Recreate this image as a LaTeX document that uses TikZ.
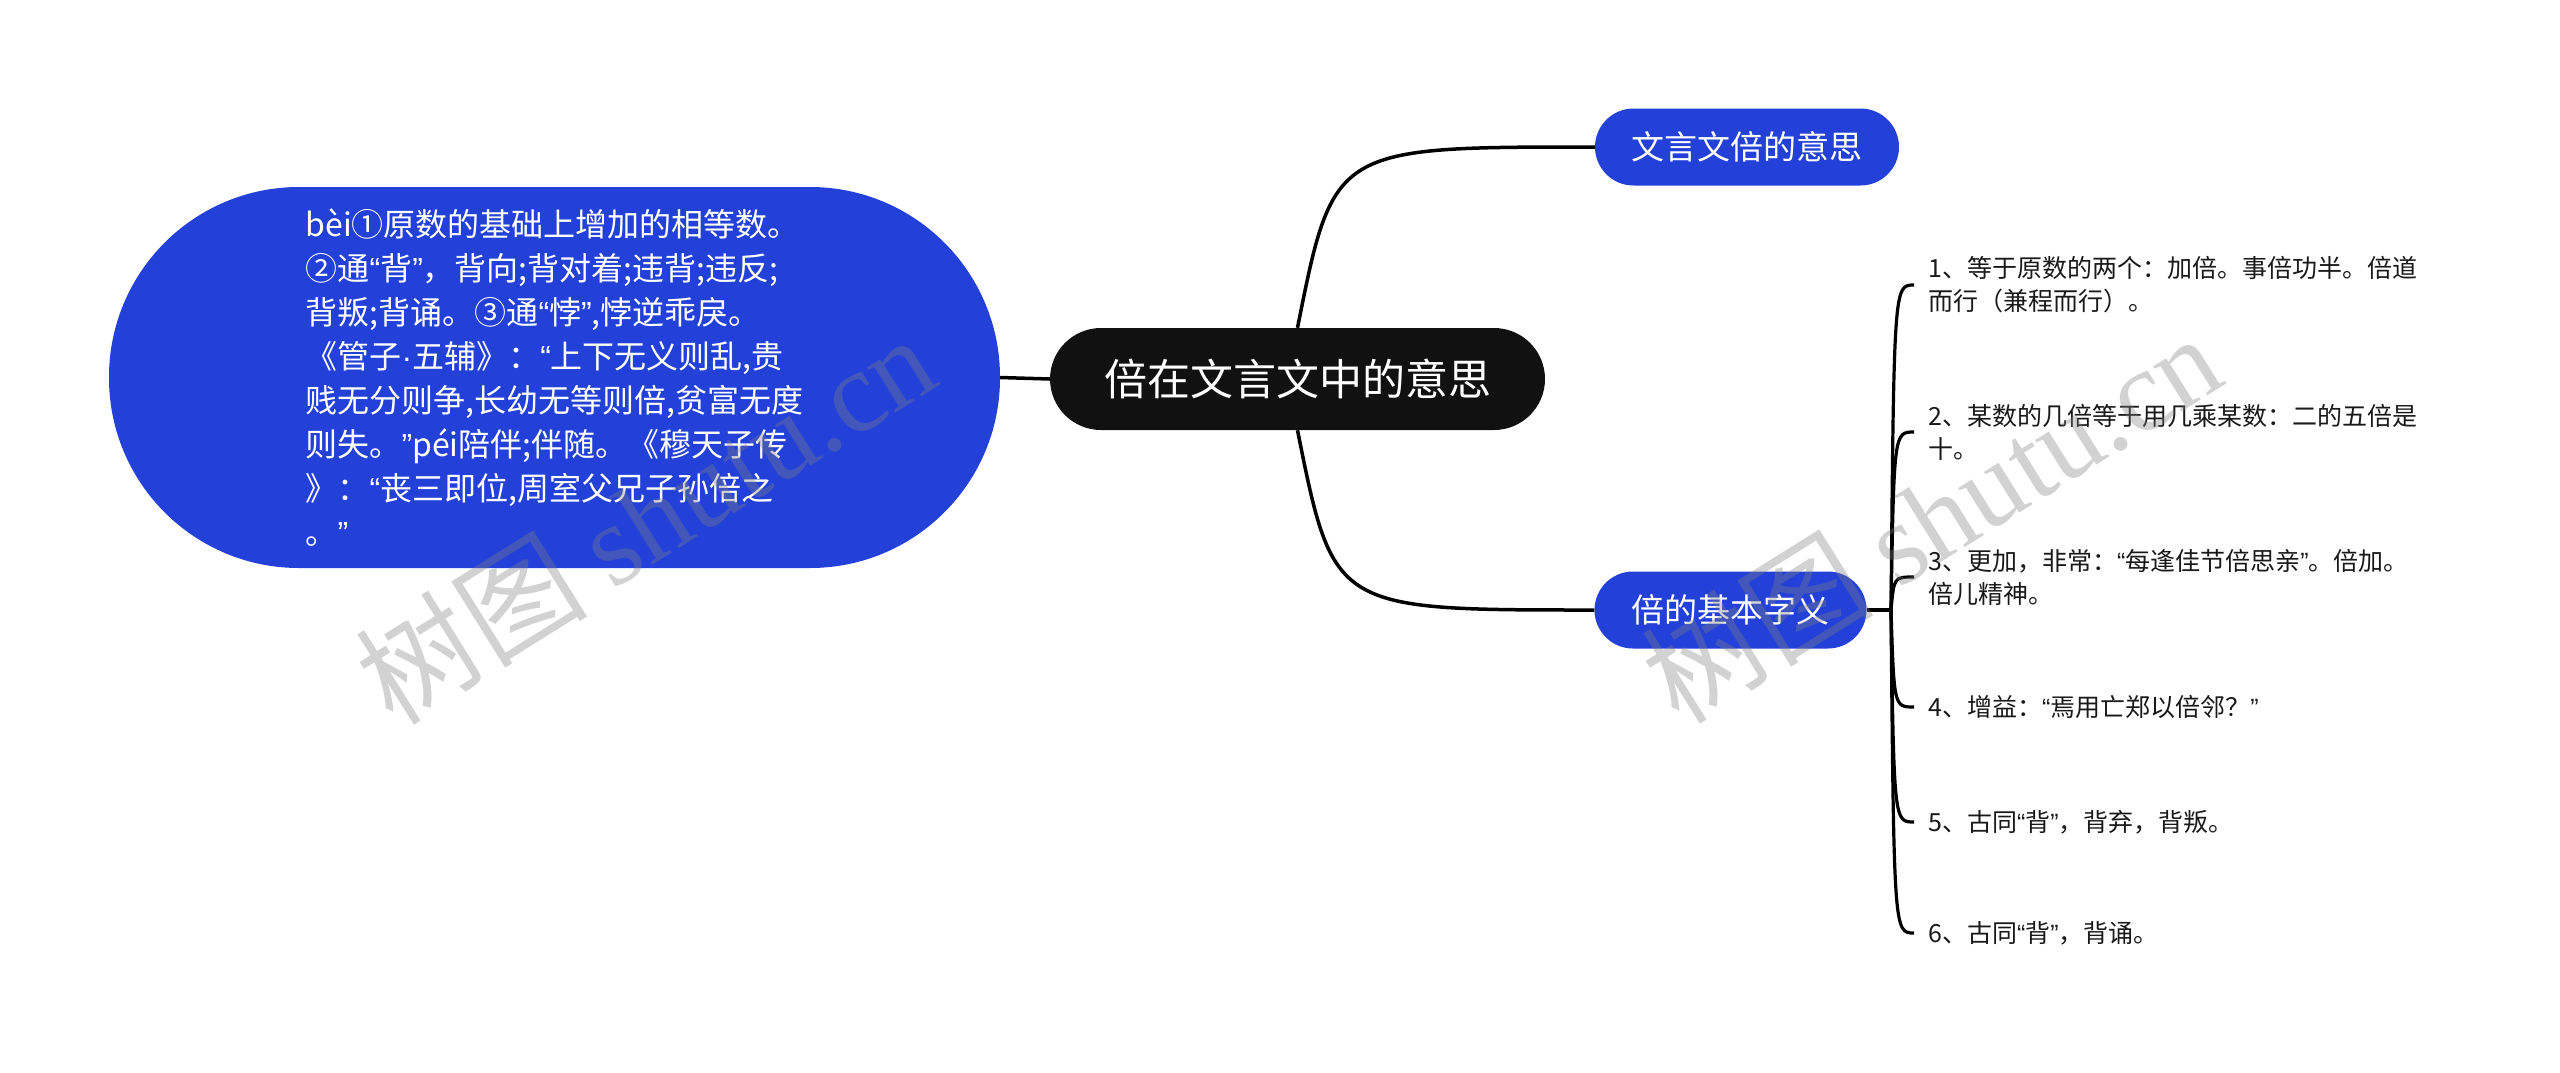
\documentclass[tikz,border=0pt]{standalone}
\usepackage{fontspec}
\setmainfont{Noto Sans CJK SC}
\newfontfamily\wmlatin{Liberation Serif}
\newfontfamily\cjkfont{Noto Sans CJK SC}
\newfontfamily\qfont{Liberation Sans}
\newcommand{\oq}{{\qfont “}}
\newcommand{\cq}{{\qfont ”}}
\newcommand{\mdot}{{\qfont ·}}
\usetikzlibrary{calc}
\definecolor{nodeblue}{HTML}{2340D8}
\definecolor{rootblack}{HTML}{111111}
\begin{document}
\begin{tikzpicture}[x=1pt,y=-1pt,
  edge/.style={line width=3.5pt, black},
  bluebox/.style={fill=nodeblue, text=white, rounded corners=38.5pt, minimum height=77pt, inner sep=0pt, font=\fontsize{33pt}{40pt}\selectfont},
  leaf/.style={anchor=west, align=left, inner xsep=14pt, inner ysep=0pt, text=black!90, font=\fontsize{25pt}{33pt}\selectfont},
  wm/.style={text=black!50, text opacity=0.35, font=\fontsize{116pt}{116pt}\selectfont, inner sep=0pt}]
\useasboundingbox[fill=white] (0,0) rectangle (2560,1072);

% left description node
\node[fill=nodeblue, text=white, rounded corners=190pt, minimum width=891pt, minimum height=381pt, inner sep=0pt, align=left, font=\fontsize{32pt}{44pt}\selectfont] (L) at (554.5,377.5)
{bèi①原数的基础上增加的相等数。\\
②通\oq 背\cq ，背向;背对着;违背;违反;\\
背叛;背诵。③通\oq 悖\cq ,悖逆乖戾。\\
《管子\mdot 五辅》：\oq 上下无义则乱,贵\\
贱无分则争,长幼无等则倍,贫富无度\\
则失。\cq péi陪伴;伴随。《穆天子传\\
》：\oq 丧三即位,周室父兄子孙倍之\\
。\cq};

% root
\node[fill=rootblack, text=white, rounded corners=51pt, minimum width=495pt, minimum height=102pt, inner sep=0pt, font=\fontsize{43pt}{50pt}\selectfont] (C) at (1297.5,379) {倍在文言文中的意思};

% branches
\node[bluebox, minimum width=304pt] (B1) at (1747,147) {文言文倍的意思};
\node[bluebox, minimum width=272pt] (B2) at (1730.5,610) {倍的基本字义};

% leaves
\node[leaf] (l1) at (1914,285) {1、等于原数的两个：加倍。事倍功半。倍道\\而行（兼程而行）。};
\node[leaf] (l2) at (1914,432) {2、某数的几倍等于用几乘某数：二的五倍是\\十。};
\node[leaf] (l3) at (1914,577) {3、更加，非常：\oq 每逢佳节倍思亲\cq 。倍加。\\倍儿精神。};
\node[leaf] (l4) at (1914,707) {4、增益：\oq 焉用亡郑以倍邻？\cq};
\node[leaf] (l5) at (1914,822) {5、古同\oq 背\cq ，背弃，背叛。};
\node[leaf] (l6) at (1914,933) {6、古同\oq 背\cq ，背诵。};

\coordinate (J) at (1891,610);

% connectors
\draw[edge] (L.east) -- (C.west);
\draw[edge] (C.north) .. controls ($(C.north |- B1.west)+(36,0)$) .. (B1.west);
\draw[edge] (C.south) .. controls ($(C.south |- B2.west)+(36,0)$) .. (B2.west);
\draw[edge] (B2.east) -- (J);
\foreach \k in {l1,l2,l3,l4,l5,l6}
  \draw[edge, line width=3.2pt] (J) .. controls ($(J |- \k.west)+(3,0)$) .. (\k.west);

% watermarks
\node[wm, rotate=32] (wm1) at (645,518) {{\cjkfont 树图} {\wmlatin shutu.cn}};
\node[wm, rotate=32] (wm2) at (1931,517) {{\cjkfont 树图} {\wmlatin shutu.cn}};
\end{tikzpicture}
\end{document}
